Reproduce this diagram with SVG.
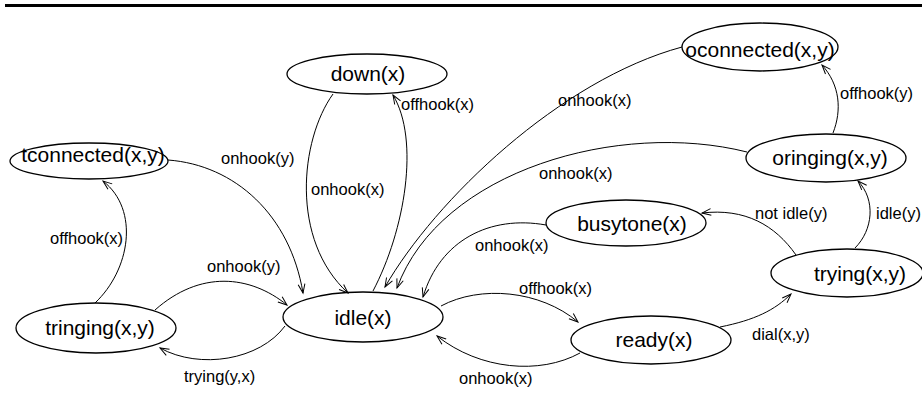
<svg xmlns="http://www.w3.org/2000/svg" width="922" height="401" viewBox="0 0 922 401">
  <style>
    .node ellipse { fill: none; stroke: #000; stroke-width: 1.3; }
    .node text { font-family: "Liberation Sans", Arial, sans-serif; font-size: 21px; text-anchor: middle; fill: #000; }
    .edge { fill: none; stroke: #000; stroke-width: 1; marker-end: url(#arrow); }
    .label { font-family: "Liberation Sans", Arial, sans-serif; font-size: 16.5px; fill: #000; }
  </style>
  <defs>
    <marker id="arrow" markerUnits="userSpaceOnUse" markerWidth="12" markerHeight="10" refX="10" refY="5" orient="auto">
      <path d="M1,1.6 L10,5 L1,8.4" fill="none" stroke="#000" stroke-width="1"/>
    </marker>
  </defs>

  <rect x="5" y="4" width="917" height="3" fill="#000"/>

  <g id="connectors">
    <path class="edge" d="M168,160 C235,165 290,215 303,293"/>
    <path class="edge" d="M333,94 C300,140 290,240 348,293"/>
    <path class="edge" d="M373,291 C405,230 420,140 393,95"/>
    <path class="edge" d="M682,47 C560,80 435,200 385,287"/>
    <path class="edge" d="M747,152 C620,120 440,170 397,288"/>
    <path class="edge" d="M546,225 C490,215 440,240 423,297"/>
    <path class="edge" d="M441,306 C480,285 540,290 578,322"/>
    <path class="edge" d="M580,353 C540,375 480,370 437,336"/>
    <path class="edge" d="M285,326 C260,360 200,370 160,348"/>
    <path class="edge" d="M155,310 C200,270 250,275 287,305"/>
    <path class="edge" d="M95,303 C130,270 140,210 103,181"/>
    <path class="edge" d="M720,327 C755,320 775,310 791,294"/>
    <path class="edge" d="M796,255 C775,225 745,208 702,213"/>
    <path class="edge" d="M855,248 C873,230 876,200 858,181"/>
    <path class="edge" d="M833,133 C842,110 840,85 822,65"/>

    <text class="label" x="401" y="110">offhook(x)</text>
    <text class="label" x="311" y="195">onhook(x)</text>
    <text class="label" x="221" y="164">onhook(y)</text>
    <text class="label" x="50" y="244">offhook(x)</text>
    <text class="label" x="207" y="272">onhook(y)</text>
    <text class="label" x="184" y="382">trying(y,x)</text>
    <text class="label" x="519" y="294">offhook(x)</text>
    <text class="label" x="459" y="384">onhook(x)</text>
    <text class="label" x="752" y="340">dial(x,y)</text>
    <text class="label" x="755" y="219">not idle(y)</text>
    <text class="label" x="876" y="219">idle(y)</text>
    <text class="label" x="539" y="179">onhook(x)</text>
    <text class="label" x="558" y="106">onhook(x)</text>
    <text class="label" x="840" y="99">offhook(y)</text>
    <text class="label" x="475" y="251">onhook(x)</text>
  </g>

  <g id="down" class="node">
    <ellipse cx="367" cy="74" rx="80" ry="20"/>
    <text x="368" y="81">down(x)</text>
  </g>
  <g id="tconnected" class="node">
    <ellipse cx="89" cy="161" rx="79" ry="18"/>
    <text x="93" y="162">tconnected(x,y)</text>
  </g>
  <g id="oconnected" class="node">
    <ellipse cx="760" cy="47" rx="78" ry="24"/>
    <text x="760" y="57">oconnected(x,y)</text>
  </g>
  <g id="oringing" class="node">
    <ellipse cx="826" cy="158" rx="80" ry="24"/>
    <text x="830" y="165">oringing(x,y)</text>
  </g>
  <g id="busytone" class="node">
    <ellipse cx="626" cy="223" rx="80" ry="23"/>
    <text x="632" y="231">busytone(x)</text>
  </g>
  <g id="trying" class="node">
    <ellipse cx="847" cy="273" rx="76" ry="24"/>
    <text x="860" y="281">trying(x,y)</text>
  </g>
  <g id="tringing" class="node">
    <ellipse cx="96" cy="328" rx="80" ry="25"/>
    <text x="100" y="335">tringing(x,y)</text>
  </g>
  <g id="idle" class="node">
    <ellipse cx="363" cy="317" rx="80" ry="25"/>
    <text x="363" y="325">idle(x)</text>
  </g>
  <g id="ready" class="node">
    <ellipse cx="651" cy="340" rx="80" ry="24"/>
    <text x="654" y="347">ready(x)</text>
  </g>
</svg>
